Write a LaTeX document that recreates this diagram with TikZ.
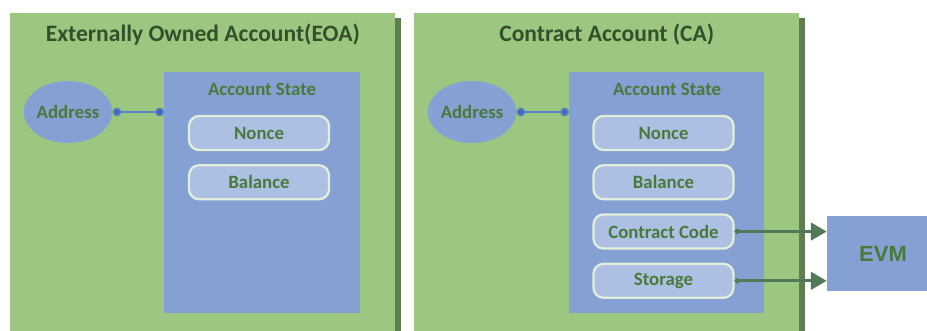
\documentclass[tikz,border=0pt]{standalone}
\usepackage{fontspec}
\setmainfont{Carlito}
\newfontfamily\evmfont{Liberation Sans}
\usetikzlibrary{shapes.geometric, arrows.meta, positioning, shadows}
\definecolor{acctgreen}{HTML}{9DC681}
\definecolor{shadowgreen}{HTML}{5F7D4F}
\definecolor{stateblue}{HTML}{85A1D3}
\definecolor{fieldblue}{HTML}{ADBFE2}
\definecolor{fieldline}{HTML}{E3EEDA}
\definecolor{textgreen}{HTML}{4A7A3A}
\definecolor{titlegreen}{HTML}{34502A}
\definecolor{dotblue}{HTML}{3D6CC4}
\definecolor{linkblue}{HTML}{5B82C2}
\definecolor{arrowgreen}{HTML}{527A58}

\begin{document}
\begin{tikzpicture}[x=0.02cm, y=0.02cm, font=\bfseries,
  acctbox/.style={rectangle, fill=acctgreen, anchor=north west, minimum width=7.7cm, minimum height=6.6cm,
    drop shadow={shadow xshift=0.12cm, shadow yshift=-0.1cm, fill=shadowgreen, opacity=1}},
  statebox/.style={rectangle, fill=stateblue, anchor=north west, minimum width=3.92cm, minimum height=4.82cm},
  field/.style={rectangle, rounded corners=0.2cm, fill=fieldblue, draw=fieldline, line width=1.3pt,
    minimum width=2.8cm, minimum height=0.68cm, text=textgreen, font=\bfseries\fontsize{10.7}{12}\selectfont},
  address/.style={ellipse, fill=stateblue, minimum width=1.62cm, minimum height=1.24cm, inner sep=0pt,
    text=textgreen, font=\bfseries\fontsize{10.7}{12}\selectfont},
  heading/.style={text=titlegreen, font=\bfseries\fontsize{13.4}{16}\selectfont},
  subheading/.style={text=textgreen, font=\bfseries\fontsize{10.7}{12}\selectfont},
  link/.style={linkblue, line width=0.8pt, {Circle[length=5pt, fill=dotblue]}-{Circle[length=5pt, fill=dotblue]}},
  feed/.style={arrowgreen, line width=1.6pt, {Circle[length=3pt]}-{Triangle[length=9pt, width=10pt]}}]
\useasboundingbox (0,0) rectangle (927,331);

% externally owned account
\node[acctbox] (eoa) at (10,318) {};
\node[heading, below=0.1cm of eoa.north] (eoatitle) {Externally Owned Account(EOA)};
\node[statebox] (eoastate) at (164,259) {};
\node[subheading] (eoastatetitle) at (262,242) {Account State};
\node[field] (eoanonce) at (259,198) {Nonce};
\node[field, below=0.26cm of eoanonce] (eoabalance) {Balance};
\node[address] (eoaaddr) at (68,219) {Address};
\draw[link] (eoaaddr.east) -- (eoaaddr.east -| eoastate.west);

% contract account
\node[acctbox] (ca) at (414,318) {};
\node[heading, below=0.1cm of ca.north] (catitle) {Contract Account (CA)};
\node[statebox, minimum width=3.9cm] (castate) at (569,259) {};
\node[subheading] (castatetitle) at (667,242) {Account State};
\node[field] (canonce) at (663.5,198) {Nonce};
\node[field, below=0.26cm of canonce] (cabalance) {Balance};
\node[field, below=0.26cm of cabalance] (cacode) {Contract Code};
\node[field, below=0.26cm of cacode] (castorage) {Storage};
\node[address] (caaddr) at (472,219) {Address};
\draw[link] (caaddr.east) -- (caaddr.east -| castate.west);

% virtual machine
\node[rectangle, fill=stateblue, minimum width=2.24cm, minimum height=1.5cm, text=textgreen,
  font=\evmfont\bfseries\fontsize{12.5}{15}\selectfont] (evm) at (883,77.5) {EVM};
\draw[feed] (cacode.east) -- (cacode.east -| evm.west);
\draw[feed] (castorage.east) -- (castorage.east -| evm.west);
\end{tikzpicture}
\end{document}
